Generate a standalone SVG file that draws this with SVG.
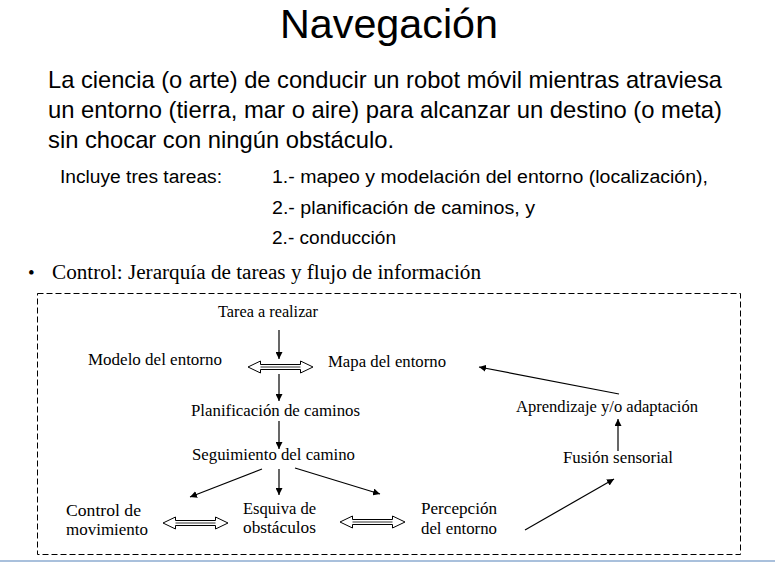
<svg xmlns="http://www.w3.org/2000/svg" width="775" height="563" viewBox="0 0 775 563">
  <defs>
    <marker id="ah" viewBox="0 0 10 10" refX="10" refY="5" markerWidth="7" markerHeight="7" markerUnits="userSpaceOnUse" orient="auto">
      <path d="M0,0 L10,5 L0,10 z" fill="#000"/>
    </marker>
    <!-- hollow double-headed arrow, 65 wide, centred on origin -->
    <g id="dbl">
      <path d="M-32.5,0 L-20,-6 L-20,-2.5 L20,-2.5 L20,-6 L32.5,0 L20,6 L20,2.5 L-20,2.5 L-20,6 z" fill="#fff" stroke="#000" stroke-width="1"/>
      <line x1="-20" y1="0" x2="20" y2="0" stroke="#999" stroke-width="2"/>
    </g>
  </defs>
  <style>
    .hd { font-family: "Liberation Sans", Arial, sans-serif; fill: #000; }
    .tm { font-family: "Liberation Serif", "Times New Roman", serif; fill: #000; }
    .lb { font-family: "Liberation Serif", "Times New Roman", serif; font-size: 16px; fill: #000; }
    .cn { stroke: #000; stroke-width: 1.2; fill: none; marker-end: url(#ah); }
  </style>
  <rect width="775" height="563" fill="#fff"/>

  <!-- heading and description -->
  <text class="hd" x="280" y="38" font-size="41" textLength="218" lengthAdjust="spacingAndGlyphs">Navegación</text>
  <text class="hd" x="48" y="88" font-size="24" textLength="674" lengthAdjust="spacingAndGlyphs">La ciencia (o arte) de conducir un robot móvil mientras atraviesa</text>
  <text class="hd" x="48" y="118" font-size="24" textLength="674" lengthAdjust="spacingAndGlyphs">un entorno (tierra, mar o aire) para alcanzar un destino (o meta)</text>
  <text class="hd" x="48" y="148" font-size="24" textLength="346" lengthAdjust="spacingAndGlyphs">sin chocar con ningún obstáculo.</text>
  <text class="hd" x="60" y="183" font-size="18" textLength="162" lengthAdjust="spacingAndGlyphs">Incluye tres tareas:</text>
  <text class="hd" x="272" y="183" font-size="18" textLength="436" lengthAdjust="spacingAndGlyphs">1.- mapeo y modelación del entorno (localización),</text>
  <text class="hd" x="272" y="214" font-size="18" textLength="263" lengthAdjust="spacingAndGlyphs">2.- planificación de caminos, y</text>
  <text class="hd" x="272" y="244" font-size="18" textLength="124" lengthAdjust="spacingAndGlyphs">2.- conducción</text>

  <text class="tm" x="28" y="279" font-size="19">•</text>
  <text class="tm" x="52" y="279" font-size="20" textLength="429" lengthAdjust="spacingAndGlyphs">Control: Jerarquía de tareas y flujo de información</text>

  <!-- dashed frame -->
  <rect x="37.5" y="293.5" width="703" height="261" fill="none" stroke="#000" stroke-width="1" stroke-dasharray="6,3"/>

  <!-- nodes -->
  <g id="tarea"><text class="lb" x="218" y="317" textLength="100" lengthAdjust="spacingAndGlyphs">Tarea a realizar</text></g>
  <g id="modelo"><text class="lb" x="88" y="365" textLength="134" lengthAdjust="spacingAndGlyphs">Modelo del entorno</text></g>
  <g id="mapa"><text class="lb" x="328" y="367" textLength="118" lengthAdjust="spacingAndGlyphs">Mapa del entorno</text></g>
  <g id="planificacion"><text class="lb" x="191" y="416" textLength="169" lengthAdjust="spacingAndGlyphs">Planificación de caminos</text></g>
  <g id="seguimiento"><text class="lb" x="192" y="460" textLength="163" lengthAdjust="spacingAndGlyphs">Seguimiento del camino</text></g>
  <g id="control">
    <text class="lb" x="66" y="516" textLength="75" lengthAdjust="spacingAndGlyphs">Control de</text>
    <text class="lb" x="66" y="535" textLength="82" lengthAdjust="spacingAndGlyphs">movimiento</text>
  </g>
  <g id="esquiva">
    <text class="lb" x="243" y="514" textLength="73" lengthAdjust="spacingAndGlyphs">Esquiva de</text>
    <text class="lb" x="243" y="533" textLength="73" lengthAdjust="spacingAndGlyphs">obstáculos</text>
  </g>
  <g id="percepcion">
    <text class="lb" x="421" y="514" textLength="76" lengthAdjust="spacingAndGlyphs">Percepción</text>
    <text class="lb" x="421" y="534" textLength="76" lengthAdjust="spacingAndGlyphs">del entorno</text>
  </g>
  <g id="aprendizaje"><text class="lb" x="516" y="412" textLength="182" lengthAdjust="spacingAndGlyphs">Aprendizaje y/o adaptación</text></g>
  <g id="fusion"><text class="lb" x="563" y="463" textLength="110" lengthAdjust="spacingAndGlyphs">Fusión sensorial</text></g>

  <!-- connectors -->
  <g id="connectors">
    <line class="cn" x1="279" y1="330" x2="279" y2="359"/>
    <line class="cn" x1="279" y1="374" x2="279" y2="401"/>
    <line class="cn" x1="279" y1="421" x2="279" y2="449"/>
    <line class="cn" x1="262" y1="469" x2="190" y2="497"/>
    <line class="cn" x1="279" y1="469" x2="279" y2="495"/>
    <line class="cn" x1="295" y1="468" x2="380" y2="494"/>
    <line class="cn" x1="525" y1="530" x2="614" y2="479"/>
    <line class="cn" x1="618" y1="451" x2="618" y2="419"/>
    <line class="cn" x1="619" y1="394" x2="479" y2="367"/>
    <use href="#dbl" x="280.5" y="367"/>
    <use href="#dbl" x="195.5" y="523"/>
    <use href="#dbl" x="372.5" y="522"/>
  </g>

  <!-- bottom rule -->
  <line x1="0" y1="561" x2="775" y2="561" stroke="#a9c0dc" stroke-width="2"/>
</svg>
